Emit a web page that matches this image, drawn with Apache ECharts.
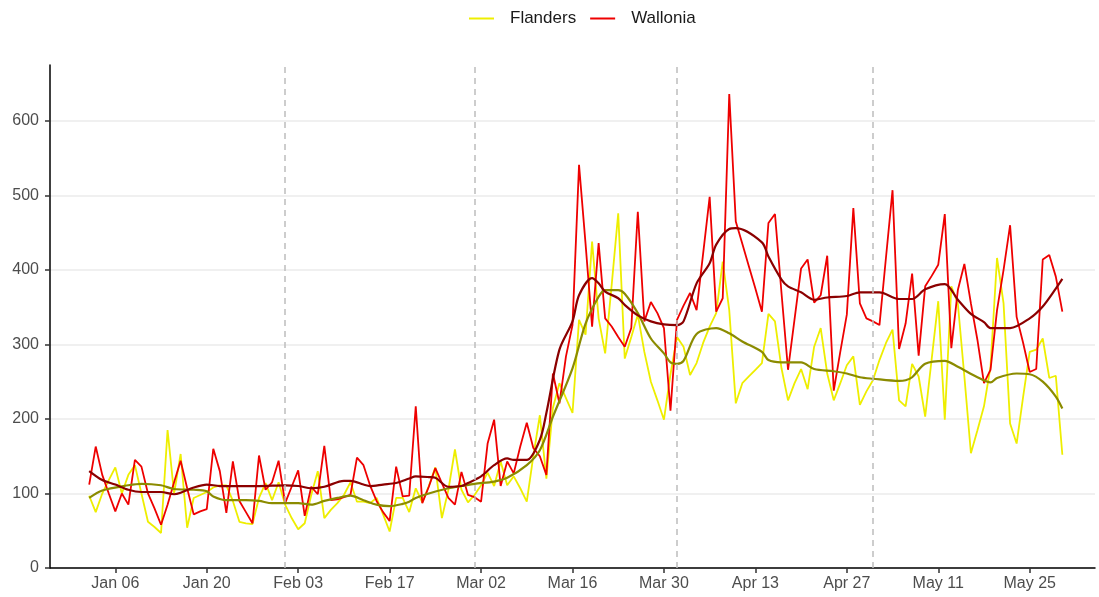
<!DOCTYPE html>
<html>
<head>
<meta charset="utf-8">
<script src="https://cdn.jsdelivr.net/npm/echarts@6/dist/echarts.min.js"></script>
<style>
  html, body { margin: 0; padding: 0; background: #fff; }
  #chart { width: 1099px; height: 597px; }
</style>
</head>
<body>
<div id="chart"></div>
<script>
// daily counts, first value is 2 Jan 2020
const firstDay = '2020-01-02';
const flanders = [
  97, 75, 100, 118, 135, 100, 125, 138, 100, 62,
  55, 47, 185, 100, 153, 54, 94, 98, 102, 108,
  111, 111, 90, 62, 60, 59, 94, 114, 91, 115,
  85, 67, 52, 60, 98, 130, 67, 78, 87, 98,
  115, 89, 89, 87, 94, 72, 49, 94, 94, 75,
  107, 88, 110, 135, 67, 105, 159, 105, 88, 98,
  111, 128, 110, 143, 111, 123, 107, 89, 150, 205,
  120, 215, 248, 228, 208, 333, 313, 438, 335, 288,
  380, 476, 281, 310, 340, 290, 250, 225, 199, 260,
  310, 297, 259, 275, 302, 324, 342, 411, 346, 221,
  248, 257, 266, 275, 341, 331, 268, 225, 248, 267,
  240, 297, 322, 261, 225, 248, 272, 284, 219, 237,
  252, 279, 302, 320, 225, 217, 274, 257, 203, 281,
  358, 199, 378, 355, 257, 154, 185, 217, 270, 416,
  355, 194, 167, 230, 290, 293, 308, 255, 258, 152
];
const wallonia = [
  112, 163, 125, 100, 76, 100, 85, 145, 136, 100,
  80, 58, 85, 115, 144, 107, 72, 76, 79, 160,
  130, 74, 143, 90, 75, 60, 151, 105, 115, 144,
  87, 109, 131, 70, 109, 99, 164, 91, 92, 95,
  98, 148, 138, 111, 90, 75, 63, 136, 96, 97,
  217, 87, 109, 134, 114, 94, 85, 129, 98, 95,
  89, 167, 199, 110, 143, 127, 163, 195, 161, 150,
  125, 261, 221, 284, 326, 541, 435, 324, 436, 335,
  324, 310, 297, 322, 478, 331, 357, 342, 322, 211,
  333, 352, 369, 346, 422, 498, 344, 362, 636, 465,
  435, 405, 375, 344, 463, 475, 369, 266, 334, 402,
  414, 356, 366, 419, 238, 290, 340, 483, 355, 335,
  331, 326, 417, 507, 294, 328, 395, 285, 378, 392,
  407, 475, 295, 373, 408, 355, 306, 248, 266, 346,
  400, 460, 337, 302, 263, 267, 414, 420, 391, 344
];

// trend lines, read at some days (day offset from firstDay)
const flandersTrendDay = [0, 2, 6, 8, 11, 13, 16, 18, 19, 21, 24, 26, 28, 32, 34, 36, 38, 40, 42, 44,
  46, 48, 49, 50, 52, 55, 57, 59, 62, 64, 67, 69, 71, 74, 76, 78, 79, 81, 82, 84,
  86, 88, 89, 90, 91, 93, 96, 98, 100, 103, 104, 106, 109, 111, 114, 116, 118, 120, 124, 125,
  126, 128, 131, 133, 136, 138, 139, 142, 144, 146, 148, 149];
const flandersTrend = [94, 104, 111, 113, 111, 106, 105, 103, 96, 91, 91, 90, 87, 87, 85, 90, 94, 97, 91, 85,
  83, 86, 89, 94, 100, 107, 110, 113, 116, 121, 138, 158, 203, 268, 328, 364, 373, 373, 368, 342,
  308, 288, 276, 274, 278, 314, 322, 315, 304, 290, 279, 276, 276, 267, 264, 261, 256, 254, 251, 252,
  256, 274, 278, 270, 256, 249, 255, 261, 260, 250, 230, 214];
const walloniaTrendDay = [0, 2, 4, 6, 8, 11, 13, 14, 16, 18, 20, 23, 26, 30, 32, 34, 36, 39, 40, 42,
  43, 45, 47, 49, 50, 52, 53, 55, 57, 58, 60, 62, 64, 65, 67, 69, 70, 72, 74, 75,
  77, 78, 79, 81, 82, 84, 86, 88, 90, 91, 93, 95, 96, 98, 99, 103, 104, 106, 107, 109,
  111, 113, 116, 118, 121, 124, 126, 128, 131, 133, 135, 137, 138, 141, 144, 146, 148, 149];
const walloniaTrend = [130, 118, 112, 105, 102, 102, 99, 101, 108, 112, 110, 110, 110, 111, 110, 107, 109, 117, 117, 112,
  110, 112, 114, 120, 123, 122, 121, 109, 110, 114, 123, 138, 147, 145, 145, 172, 208, 293, 331, 366,
  389, 382, 371, 362, 353, 339, 331, 327, 326, 331, 382, 409, 434, 455, 456, 437, 418, 387, 378, 370,
  360, 363, 365, 370, 370, 361, 361, 374, 381, 360, 341, 330, 322, 322, 335, 351, 375, 388];

const tickLabels = ['Jan 06', 'Jan 20', 'Feb 03', 'Feb 17', 'Mar 02', 'Mar 16', 'Mar 30',
  'Apr 13', 'Apr 27', 'May 11', 'May 25'];
const monthStarts = ['2020-02-01', '2020-03-01', '2020-04-01', '2020-05-01'];
const yTicks = [0, 100, 200, 300, 400, 500, 600];

const MONTHS = ['Jan', 'Feb', 'Mar', 'Apr', 'May', 'Jun', 'Jul', 'Aug', 'Sep', 'Oct', 'Nov', 'Dec'];
const DAY = 86400000;
function iso(t) { return new Date(t).toISOString().slice(0, 10); }
function pretty(s) { return MONTHS[+s.slice(5, 7) - 1] + ' ' + s.slice(8, 10); }

// x axis runs a few days past the data on both sides
const axisStart = Date.parse('2019-12-27T00:00:00Z');
const axisEnd = Date.parse('2020-06-04T00:00:00Z');
const days = [];
for (let t = axisStart; t <= axisEnd; t += DAY) days.push(iso(t));
const t0 = Date.parse(firstDay + 'T00:00:00Z');
const dayAt = k => iso(t0 + k * DAY);

const isTick = (i, v) => tickLabels.indexOf(pretty(v)) >= 0;

const chart = echarts.init(document.getElementById('chart'), null, { renderer: 'canvas' });
const font = 'Liberation Sans, Arial, Helvetica, sans-serif';

const option = {
  animation: false,
  backgroundColor: '#ffffff',
  textStyle: { fontFamily: font },
  legend: {
    data: ['Flanders', 'Wallonia'],
    top: 5,
    left: 464,
    icon: 'rect',
    itemWidth: 25,
    itemHeight: 2,
    itemGap: 14,
    textStyle: { fontSize: 17, color: '#1a1a1a', fontFamily: font, padding: [0, 0, 0, 11] }
  },
  grid: { left: 50, right: 4, top: 65, bottom: 29, containLabel: false },
  xAxis: {
    type: 'category',
    data: days,
    boundaryGap: false,
    axisLine: { lineStyle: { color: '#000', width: 1.5 } },
    axisTick: { show: true, interval: isTick, length: 5, lineStyle: { color: '#333', width: 1.5 } },
    axisLabel: {
      interval: isTick,
      formatter: v => pretty(v),
      color: '#4d4d4d',
      fontSize: 16,
      margin: 8,
      fontFamily: font
    },
    splitLine: { show: false }
  },
  yAxis: {
    type: 'value',
    min: 0,
    max: 675,
    interval: 100,
    axisLine: { show: true, lineStyle: { color: '#000', width: 1.5 } },
    axisTick: { show: true, length: 5, lineStyle: { color: '#333', width: 1.5 } },
    axisLabel: {
      color: '#4d4d4d',
      fontSize: 16,
      margin: 11,
      fontFamily: font,
      showMaxLabel: false,
      formatter: v => (yTicks.indexOf(v) >= 0 ? String(v) : '')
    },
    splitLine: { show: true, showMaxLine: false, lineStyle: { color: '#ebebeb', width: 1.5 } }
  },
  series: [
    {
      name: 'Flanders',
      type: 'line',
      data: flanders.map((v, k) => [dayAt(k), v]),
      showSymbol: false,
      color: '#eeee00',
      lineStyle: { width: 1.8, color: '#eeee00' },
      markLine: {
        silent: true,
        symbol: 'none',
        label: { show: false },
        lineStyle: { color: '#bdbdbd', type: [6, 5], width: 1.5 },
        data: monthStarts.map(d => ({ xAxis: d }))
      }
    },
    {
      name: 'Wallonia',
      type: 'line',
      data: wallonia.map((v, k) => [dayAt(k), v]),
      showSymbol: false,
      color: '#ee0000',
      lineStyle: { width: 1.8, color: '#ee0000' }
    },
    {
      name: 'Flanders trend',
      type: 'line',
      data: flandersTrendDay.map((k, j) => [dayAt(k), flandersTrend[j]]),
      showSymbol: false,
      smooth: 0.3,
      color: '#8b8b00',
      lineStyle: { width: 2.2, color: '#8b8b00' }
    },
    {
      name: 'Wallonia trend',
      type: 'line',
      data: walloniaTrendDay.map((k, j) => [dayAt(k), walloniaTrend[j]]),
      showSymbol: false,
      smooth: 0.3,
      color: '#8b0000',
      lineStyle: { width: 2.2, color: '#8b0000' }
    }
  ]
};
chart.setOption(option);
</script>
</body>
</html>
